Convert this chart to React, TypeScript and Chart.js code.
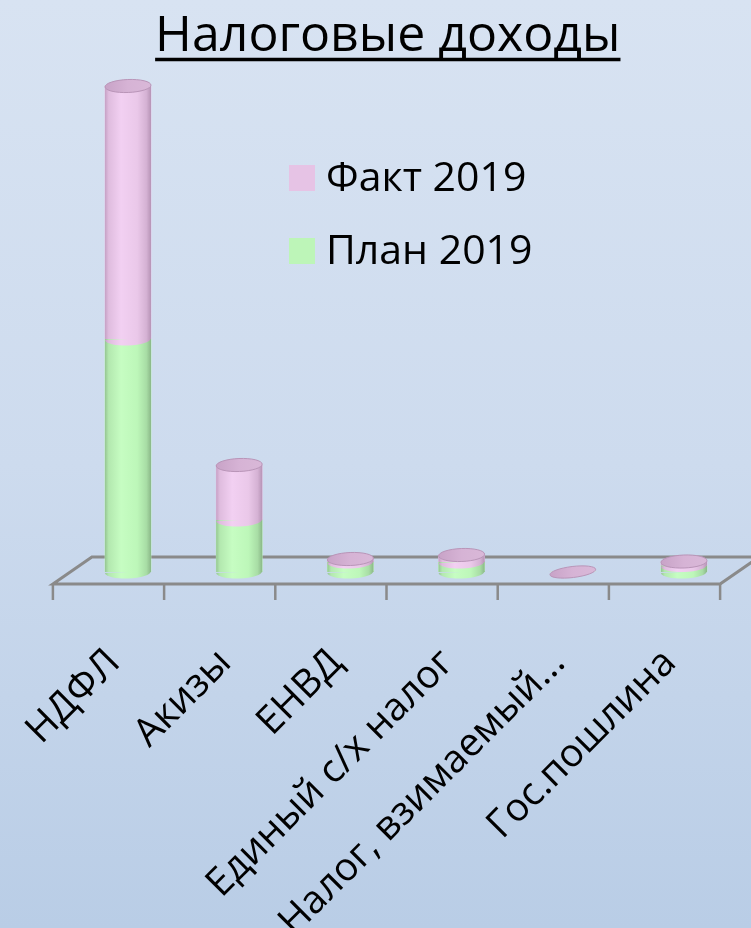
import React, { useEffect, useRef } from 'react';
import { Chart, registerables } from 'chart.js';
Chart.register(...registerables);

const categories = ['НДФЛ', 'Акизы', 'ЕНВД', 'Единый с/х налог', 'Налог, взимаемый...', 'Гос.пошлина'];
const plan2019 = [233, 52, 10, 10, 0, 6.5];
const fact2019 = [253, 55, 3, 7, 0, 4];
const seriesNames = ['План 2019', 'Факт 2019'];
const titleText = 'Налоговые доходы';

const FONT = "'Open Sans', 'Noto Sans', sans-serif";
const GREEN = '#bdf5b8';
const PINK = '#e6c3e5';

function hGrad(ctx: CanvasRenderingContext2D, x: number, rx: number, stops: [number, string][]) {
  const g = ctx.createLinearGradient(x - rx, 0, x + rx, 0);
  stops.forEach(([o, c]) => g.addColorStop(o, c));
  return g;
}
const greenStops: [number, string][] = [[0, '#96c693'], [0.08, '#b3e8af'], [0.35, '#c6fdc2'], [0.7, '#bdf7b9'], [0.9, '#a8dda5'], [1, '#8bb888']];
const pinkStops: [number, string][] = [[0, '#c6a1c5'], [0.08, '#dfbcde'], [0.35, '#f2d0f2'], [0.7, '#eac8e9'], [0.9, '#d5b2d4'], [1, '#b794b6']];
const topStops: [number, string][] = [[0, '#c8a3c7'], [0.5, '#d6b3d5'], [1, '#d9b8d8']];

const bgPlugin = {
  id: 'bg',
  beforeDraw(chart: any) {
    const { ctx, width, height } = chart;
    const g = ctx.createLinearGradient(0, 0, 0, height);
    g.addColorStop(0, '#d8e3f2');
    g.addColorStop(0.5, '#cddbee');
    g.addColorStop(1, '#b9cde6');
    ctx.save();
    ctx.fillStyle = g;
    ctx.fillRect(0, 0, width, height);
    ctx.restore();
  },
};

const floorPlugin = {
  id: 'floor',
  beforeDatasetsDraw(chart: any) {
    const { ctx, chartArea } = chart;
    const xs = chart.scales.x;
    const base = chart.scales.y.getPixelForValue(0);
    const n = categories.length;
    const cw = (chartArea.right - chartArea.left) / n;
    const d = 19.5;
    const fy = base + 12;
    const by = base - 15;
    const fl = chartArea.left - d, fr = chartArea.right - d;
    const bl = chartArea.left + d, br = chartArea.right + d;
    ctx.save();
    ctx.strokeStyle = '#8a8a8a';
    ctx.lineWidth = 3;
    ctx.beginPath();
    ctx.moveTo(fr, fy); ctx.lineTo(fl, fy); ctx.lineTo(bl, by); ctx.lineTo(br, by); ctx.lineTo(fr, fy);
    ctx.stroke();
    ctx.lineWidth = 2.5;
    for (let i = 0; i <= n; i++) {
      const x = xs.left + i * cw - d;
      ctx.beginPath();
      ctx.moveTo(x, fy);
      ctx.lineTo(x, fy + 16);
      ctx.stroke();
    }
    ctx.restore();
  },
};

const cylPlugin = {
  id: 'cyl',
  afterDatasetsDraw(chart: any) {
    const ctx: CanvasRenderingContext2D = chart.ctx;
    const m0 = chart.getDatasetMeta(0);
    const m1 = chart.getDatasetMeta(1);
    const tilt = -0.04;
    const ry = 6.5;
    ctx.save();
    m0.data.forEach((el0: any, i: number) => {
      const el1 = m1.data[i];
      const p0 = el0.getProps(['x', 'y', 'base', 'width'], true);
      const p1 = el1.getProps(['x', 'y', 'base', 'width'], true);
      const x = p0.x;
      const rx = p0.width / 2;
      const gG = hGrad(ctx, x, rx, greenStops);
      const gP = hGrad(ctx, x, rx, pinkStops);
      const hasBody = p1.y < p0.base - 0.5;
      if (hasBody) {
        // plan body
        ctx.fillStyle = gG;
        ctx.fillRect(x - rx, p0.y, p0.width, p0.base - p0.y);
        ctx.beginPath();
        ctx.ellipse(x, p0.base, rx, ry, tilt, 0, Math.PI);
        ctx.fill();
        // fact body
        ctx.fillStyle = gP;
        ctx.fillRect(x - rx, p1.y, p1.width, p1.base - p1.y);
        ctx.beginPath();
        ctx.ellipse(x, p1.base, rx, ry, tilt, 0, Math.PI);
        ctx.fill();
      }
      // top cap
      ctx.fillStyle = hGrad(ctx, x, rx, topStops);
      ctx.strokeStyle = '#b995b8';
      ctx.lineWidth = 1;
      ctx.beginPath();
      ctx.ellipse(x, p1.y, rx, hasBody ? ry : ry * 0.85, hasBody ? tilt : -0.12, 0, Math.PI * 2);
      ctx.fill();
      ctx.stroke();
    });
    ctx.restore();
  },
};

const legendPlugin = {
  id: 'customLegend',
  afterDraw(chart: any) {
    const ctx: CanvasRenderingContext2D = chart.ctx;
    const ds = chart.data.datasets;
    const items = [ds[1], ds[0]];
    ctx.save();
    ctx.font = `41px ${FONT}`;
    ctx.textBaseline = 'middle';
    ctx.textAlign = 'left';
    items.forEach((d: any, k: number) => {
      const cy = 178 + k * 73;
      ctx.fillStyle = d.legendColor;
      ctx.fillRect(289, cy - 13, 26, 26);
      ctx.fillStyle = '#000';
      ctx.fillText(d.label, 326, cy + 1);
    });
    ctx.restore();
  },
};

const underlinePlugin = {
  id: 'titleUnderline',
  afterDraw(chart: any) {
    const ctx: CanvasRenderingContext2D = chart.ctx;
    const tb = chart.titleBlock;
    if (!tb) return;
    ctx.save();
    ctx.font = `50px ${FONT}`;
    const w = ctx.measureText(titleText).width;
    const cx = (tb.left + tb.right) / 2;
    const cy = (tb.top + tb.bottom) / 2;
    ctx.strokeStyle = '#000';
    ctx.lineWidth = 3.5;
    ctx.beginPath();
    ctx.moveTo(cx - w / 2, cy + 23);
    ctx.lineTo(cx + w / 2, cy + 23);
    ctx.stroke();
    ctx.restore();
  },
};

export default function App() {
  const ref = useRef<HTMLCanvasElement>(null);
  useEffect(() => {
    const chart = new Chart(ref.current!, {
      type: 'bar',
      data: {
        labels: categories,
        datasets: [
          { label: seriesNames[0], data: plan2019, backgroundColor: GREEN, legendColor: GREEN, barThickness: 46 } as any,
          { label: seriesNames[1], data: fact2019, backgroundColor: PINK, legendColor: PINK, barThickness: 46 } as any,
        ],
      },
      options: {
        responsive: false,
        animation: false,
        layout: { padding: { left: 36, right: 11.4, top: 1, bottom: 0 } },
        plugins: {
          legend: { display: false },
          tooltip: { enabled: false },
          title: {
            display: true,
            text: titleText,
            color: '#000',
            font: { family: FONT, size: 50, weight: 'normal' },
            padding: { top: 6, bottom: 5 },
          },
        },
        scales: {
          x: {
            stacked: true,
            grid: { display: false, drawTicks: false },
            border: { display: false },
            ticks: {
              color: '#000',
              font: { family: FONT, size: 39 },
              minRotation: 45,
              maxRotation: 45,
              autoSkip: false,
              padding: 68,
              labelOffset: -14,
            },
            afterFit: (s: any) => {
              s.height = 356;
              s.paddingLeft = 0;
              s.paddingRight = 0;
            },
          },
          y: {
            stacked: true,
            min: 0,
            max: 500,
            grid: { display: false, drawTicks: false },
            border: { display: false },
            ticks: { display: false },
            afterFit: (s: any) => {
              s.width = 36.4;
            },
          },
        },
      },
      plugins: [bgPlugin, floorPlugin, cylPlugin, legendPlugin, underlinePlugin],
    });
    return () => chart.destroy();
  }, []);
  return (
    <div style={{ position: 'fixed', left: 0, top: 0, width: 751, height: 928 }}>
      <canvas ref={ref} width={751} height={928} style={{ display: 'block' }} />
    </div>
  );
}
